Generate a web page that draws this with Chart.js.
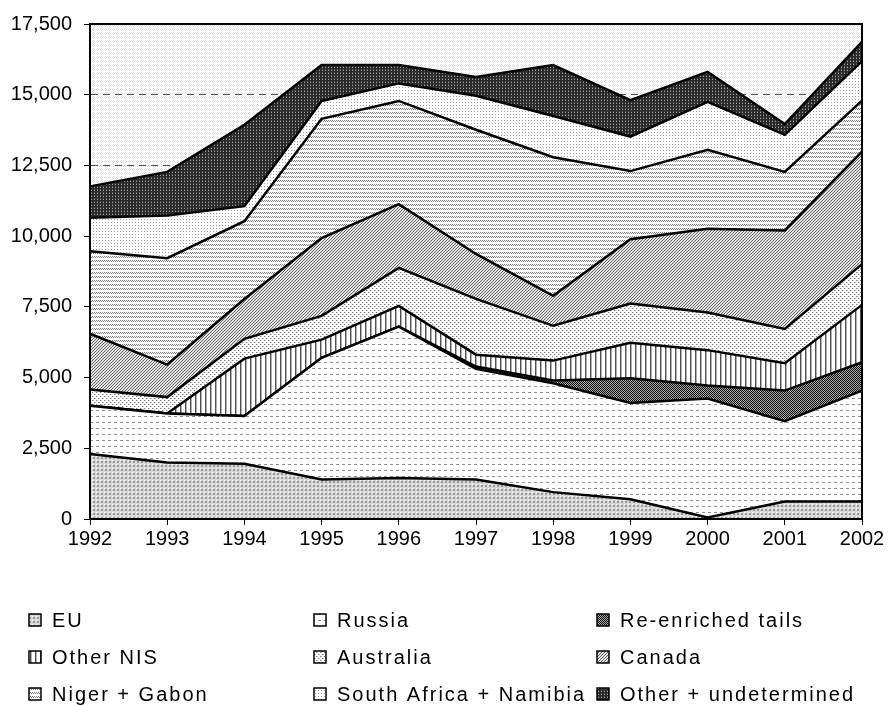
<!DOCTYPE html>
<html>
<head>
<meta charset="utf-8">
<script src="https://cdn.jsdelivr.net/npm/chart.js@4/dist/chart.umd.min.js"></script>
<style>
  html, body { margin: 0; padding: 0; background: #fff; }
  #grafico { display: block; }
</style>
</head>
<body>
<canvas id="grafico" width="893" height="706"></canvas>
<script>
// Anos do eixo X
const anos = ['1992', '1993', '1994', '1995', '1996', '1997', '1998', '1999', '2000', '2001', '2002'];

// Valores de cada série (empilhados de baixo para cima)
const eu = [2300, 2000, 1950, 1400, 1450, 1400, 950, 700, 50, 620, 620];
const russia = [1700, 1730, 1690, 4300, 5350, 3910, 3850, 3400, 4210, 2840, 3920];
const reenriched = [0, 0, 0, 0, 0, 80, 100, 880, 460, 1080, 1000];
const otherNis = [0, 0, 2030, 640, 735, 420, 700, 1250, 1250, 970, 2030];
const australia = [580, 580, 700, 840, 1345, 1970, 1230, 1390, 1330, 1210, 1440];
const canada = [1970, 1150, 1410, 2750, 2250, 1590, 1060, 2270, 2960, 3480, 3980];
const nigerGabon = [2920, 3760, 2750, 4220, 3650, 4390, 4900, 2410, 2790, 2070, 1800];
const southAfrica = [1180, 1510, 530, 630, 620, 1200, 1460, 1220, 1700, 1310, 1400];
const otherUndet = [1110, 1540, 2880, 1270, 650, 670, 1800, 1290, 1060, 380, 680];

// Nomes da legenda, na mesma ordem das séries
const nomes = ['EU', 'Russia', 'Re-enriched tails', 'Other NIS', 'Australia', 'Canada',
  'Niger + Gabon', 'South Africa + Namibia', 'Other + undetermined'];

// Ticks do eixo Y
const yMax = 17500;
const yPasso = 2500;

const fonte = "'Liberation Sans', Arial, sans-serif";

// Cria um padrão pequeno (tile) pixel a pixel
function padrao(w, h, fundo, pontos) {
  const c = document.createElement('canvas');
  c.width = w;
  c.height = h;
  const g = c.getContext('2d');
  g.fillStyle = fundo;
  g.fillRect(0, 0, w, h);
  pontos.forEach(([x, y, cor, pw, ph]) => {
    g.fillStyle = cor;
    g.fillRect(x, y, pw || 1, ph || 1);
  });
  return document.getElementById('grafico').getContext('2d').createPattern(c, 'repeat');
}

const fundoPlot = padrao(4, 4, '#ffffff', [[1, 0, '#dcdcdc'], [0, 1, '#dcdcdc'], [2, 1, '#dcdcdc'], [1, 2, '#dcdcdc']]);

const padroes = [
  // EU - grade cinza
  padrao(4, 4, '#d8d8d8', [[1, 1, '#9a9a9a', 2, 2], [0, 0, '#ffffff']]),
  // Russia - tracinhos horizontais
  padrao(6, 6, '#ffffff', [[0, 2, '#909090', 3, 1]]),
  // Re-enriched tails - xadrez escuro
  padrao(2, 2, '#a8a8a8', [[0, 0, '#111111'], [1, 1, '#111111']]),
  // Other NIS - linhas verticais
  padrao(5, 1, '#ffffff', [[0, 0, '#505050'], [1, 0, '#b0b0b0']]),
  // Australia - pontos em diagonal
  padrao(4, 4, '#ffffff', [[0, 0, '#808080'], [2, 2, '#808080'], [1, 0, '#c8c8c8'], [3, 2, '#c8c8c8']]),
  // Canada - hachura diagonal
  padrao(3, 3, '#e0e0e0', [[2, 0, '#6e6e6e'], [1, 1, '#6e6e6e'], [0, 2, '#6e6e6e']]),
  // Niger + Gabon - linhas onduladas
  padrao(4, 4, '#ffffff', [[0, 0, '#808080'], [1, 1, '#808080'], [2, 0, '#808080'], [3, 1, '#808080']]),
  // South Africa + Namibia - pontinhos
  padrao(3, 3, '#ffffff', [[0, 0, '#a0a0a0']]),
  // Other + undetermined - escuro com grade
  padrao(3, 3, '#2a2a2a', [[1, 1, '#a0a0a0'], [1, 0, '#555555']])
];

const series = [eu, russia, reenriched, otherNis, australia, canada, nigerGabon, southAfrica, otherUndet];

// Pinta o fundo da área do gráfico antes da grade
const pluginFundo = {
  id: 'fundo',
  beforeDraw(chart) {
    const { ctx, chartArea: a } = chart;
    ctx.save();
    ctx.fillStyle = '#ffffff';
    ctx.fillRect(0, 0, chart.width, chart.height);
    ctx.fillStyle = fundoPlot;
    ctx.fillRect(a.left, a.top, a.right - a.left, a.bottom - a.top);
    ctx.restore();
  },
  afterDatasetsDraw(chart) {
    // moldura preta em volta da área
    const { ctx, chartArea: a } = chart;
    ctx.save();
    ctx.strokeStyle = '#000';
    ctx.lineWidth = 2;
    ctx.strokeRect(a.left, a.top, a.right - a.left, a.bottom - a.top);
    ctx.restore();
  }
};

// Legenda em grade de 3 colunas
const pluginLegenda = {
  id: 'legendaGrade',
  afterDraw(chart) {
    const { ctx } = chart;
    const colX = [29, 314, 597];
    const linY = [620, 657, 694];
    ctx.save();
    ctx.font = '20px ' + fonte;
    ctx.letterSpacing = '2px';
    ctx.textBaseline = 'middle';
    ctx.fillStyle = '#000';
    chart.data.datasets.forEach((ds, i) => {
      const x = colX[i % 3];
      const y = linY[Math.floor(i / 3)];
      ctx.fillStyle = ds.backgroundColor;
      ctx.fillRect(x, y - 6, 12, 12);
      ctx.strokeStyle = '#000';
      ctx.lineWidth = 1.5;
      ctx.strokeRect(x, y - 6, 12, 12);
      ctx.fillStyle = '#000';
      ctx.fillText(ds.label, x + 23, y + 1);
    });
    ctx.restore();
  }
};

new Chart(document.getElementById('grafico'), {
  type: 'line',
  data: {
    labels: anos,
    datasets: series.map((valores, i) => ({
      label: nomes[i],
      data: valores,
      backgroundColor: padroes[i],
      borderColor: '#000',
      borderWidth: 2.5,
      pointRadius: 0,
      tension: 0,
      fill: i === 0 ? 'origin' : '-1'
    }))
  },
  options: {
    responsive: false,
    animation: false,
    devicePixelRatio: 1,
    layout: { padding: { top: 22, right: 31, left: 0, bottom: 0 } },
    plugins: {
      legend: { display: false },
      tooltip: { enabled: false }
    },
    scales: {
      x: {
        offset: false,
        grid: { drawOnChartArea: false, drawTicks: true, tickLength: 6, color: '#000' },
        border: { display: true, color: '#000', width: 2 },
        ticks: { color: '#000', font: { family: fonte, size: 20 }, padding: 2, maxRotation: 0 },
        afterFit: (s) => { s.height = 706 - 519; }
      },
      y: {
        stacked: true,
        min: 0,
        max: yMax,
        grid: { color: '#555', lineWidth: 1, tickColor: '#000', tickLength: 6 },
        border: { display: true, color: '#000', width: 2, dash: [7, 5] },
        ticks: {
          stepSize: yPasso,
          color: '#000',
          font: { family: fonte, size: 20 },
          padding: 12,
          callback: (v) => v.toLocaleString('en-US')
        },
        afterFit: (s) => { s.width = 90; }
      }
    }
  },
  plugins: [pluginFundo, pluginLegenda]
});
</script>
</body>
</html>
